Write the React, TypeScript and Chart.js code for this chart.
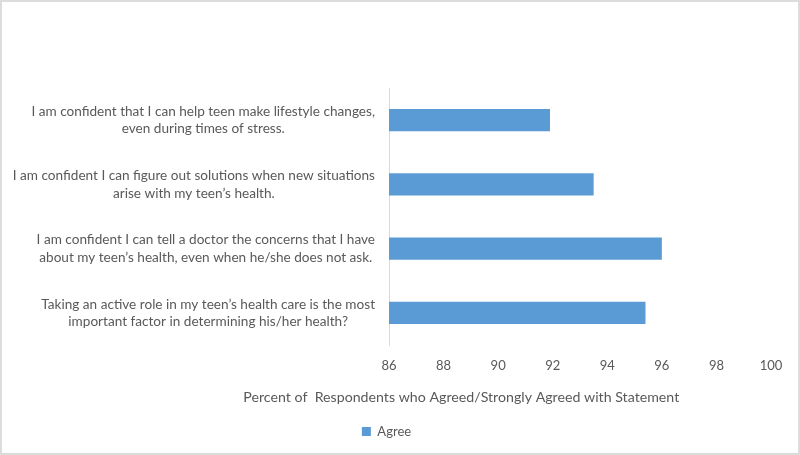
import React, { useEffect, useRef } from "react";
import { Chart, registerables } from "chart.js";

Chart.register(...registerables);

const categories: string[][] = [
  ["I am confident that I can help teen make lifestyle changes,", "even during times of stress."],
  ["I am confident I can figure out solutions when new situations", "arise with my teen\u2019s health."],
  ["I am confident I can tell a doctor the concerns that I have", "about my teen\u2019s health, even when he/she does not ask."],
  ["Taking an active role in my teen\u2019s health care is the most", "important factor in determining his/her health?"],
];
const agreeValues = [91.9, 93.5, 96.0, 95.4];
const seriesName = "Agree";
const xMin = 86;
const xMax = 100;
const xStep = 2;
const xTitle = "Percent of  Respondents who Agreed/Strongly Agreed with Statement";

const FONT = "Lato, 'Open Sans', sans-serif";
const TEXT = "#595959";
const BAR = "#5B9BD5";

export default function App() {
  const ref = useRef<HTMLCanvasElement | null>(null);
  useEffect(() => {
    if (!ref.current) return;
    const labelPlugin = {
      id: "customLabels",
      afterDraw(chart: any) {
        const ctx = chart.ctx;
        const y = chart.scales.y;
        const ca = chart.chartArea;
        ctx.save();
        ctx.fillStyle = TEXT;
        ctx.font = `13.6px ${FONT}`;
        ctx.textBaseline = "middle";
        ctx.textAlign = "center";
        const lh = 17.5;
        categories.forEach((lines, i) => {
          const cy = y.getPixelForTick(i);
          const widths = lines.map((l) => ctx.measureText(l).width);
          const w = Math.max(...widths);
          const right = ca.left - 14;
          const cx = right - w / 2;
          lines.forEach((l, j) => {
            ctx.fillText(l, cx, cy + (j - (lines.length - 1) / 2) * lh);
          });
        });
        // axis title
        ctx.font = `14.2px ${FONT}`;
        ctx.fillText(xTitle, chart.width * 0.577, ca.bottom + 52);
        ctx.restore();
      },
    };
    const chart = new Chart(ref.current, {
      type: "bar",
      data: {
        labels: categories,
        datasets: [
          {
            label: seriesName,
            data: agreeValues,
            backgroundColor: BAR,
            borderWidth: 0,
            categoryPercentage: 0.8,
            barPercentage: 0.43,
          },
        ],
      },
      options: {
        indexAxis: "y",
        animation: false,
        responsive: false,
        maintainAspectRatio: false,
        layout: { padding: { top: 86, right: 27, left: 0, bottom: 5 } },
        plugins: {
          legend: {
            position: "bottom",
            labels: {
              color: TEXT,
              boxWidth: 9,
              boxHeight: 9,
              padding: 10,
              font: { family: FONT, size: 13 },
            },
          },
          tooltip: { enabled: false },
        },
        scales: {
          x: {
            min: xMin,
            max: xMax,
            ticks: {
              stepSize: xStep,
              color: TEXT,
              padding: 13,
              font: { family: FONT, size: 13 },
            },
            grid: { display: false, drawTicks: false },
            border: { display: false },
            afterFit: (s: any) => {
              s.height = 70;
            },
          },
          y: {
            ticks: {
              color: "transparent",
              font: { family: FONT, size: 13 },
            },
            grid: { display: false, drawTicks: false },
            border: { display: true, color: "#D9D9D9", width: 1 },
            afterFit: (s: any) => {
              s.width = 387;
            },
          },
        },
      },
      plugins: [labelPlugin],
    });
    return () => chart.destroy();
  }, []);
  return (
    <div
      style={{
        position: "fixed",
        left: 0,
        top: 0,
        width: 800,
        height: 455,
        boxSizing: "border-box",
        border: "2px solid #DCDCDC",
        background: "#fff",
      }}
    >
      <canvas ref={ref} width={796} height={451} style={{ display: "block" }} />
    </div>
  );
}
